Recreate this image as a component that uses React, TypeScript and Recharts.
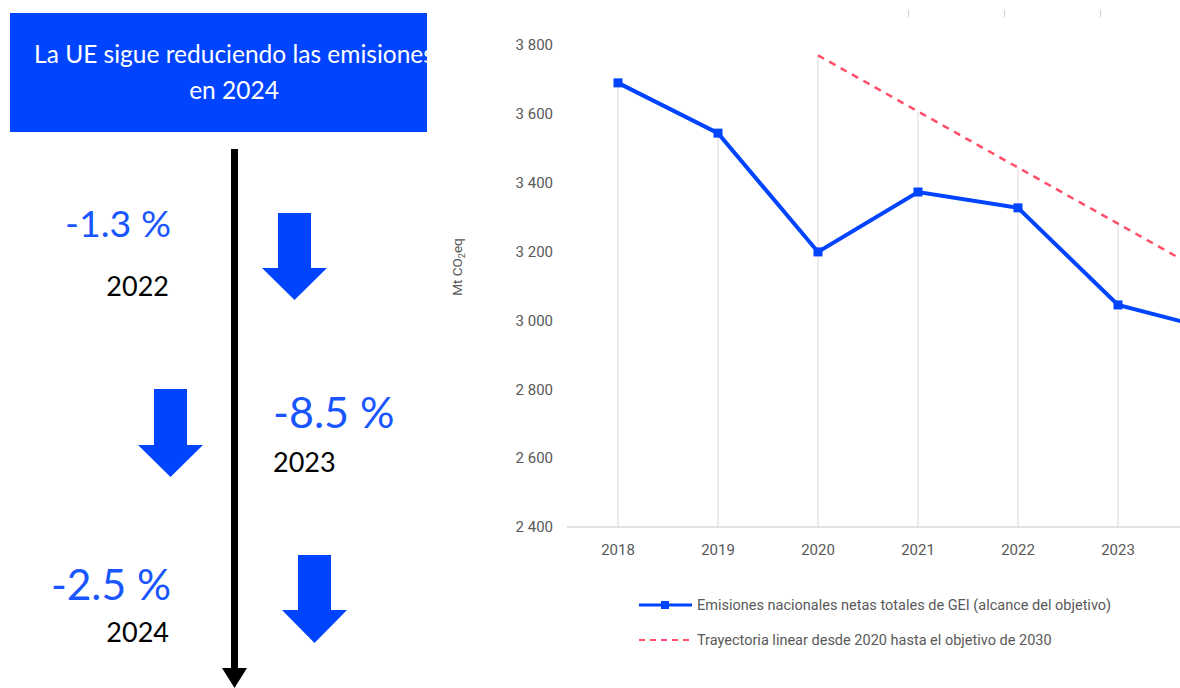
import { LineChart, Line, XAxis, YAxis, ReferenceLine, Legend } from "recharts"

// Datos (Mt CO2eq)
const years = [2018, 2019, 2020, 2021, 2022, 2023, 2024]
const emisiones = [3690, 3544, 3199, 3373, 3327, 3045, 2970]
const trayectoria = [null, null, 3770, 3607, 3444, 3281, 3118]
const yTicks = [2400, 2600, 2800, 3000, 3200, 3400, 3600, 3800]
const xTicks = [2018, 2019, 2020, 2021, 2022, 2023]

const nombreEmisiones = "Emisiones nacionales netas totales de GEI (alcance del objetivo)"
const nombreTrayectoria = "Trayectoria linear desde 2020 hasta el objetivo de 2030"

// Panel izquierdo
const cambios = ["-1.3 %", "-8.5 %", "-2.5 %"]
const anios = ["2022", "2023", "2024"]

const data = years.map((y, i) => ({
  year: y,
  emisiones: emisiones[i],
  trayectoria: trayectoria[i],
}))

const BLUE = "#0044ff"
const RED = "#ff4d6a"
const GREY = "#595959"
const chartFont = "Roboto, 'DejaVu Sans Condensed', sans-serif"

const fmt = (v: number) => {
  const s = String(v)
  return s.length > 3 ? s.slice(0, s.length - 3) + " " + s.slice(-3) : s
}

const YLabel = (props: any) => {
  const { viewBox } = props
  const x = viewBox.x + 22
  const y = 267
  return (
    <text x={x} y={y} transform={`rotate(-90 ${x} ${y})`} textAnchor="middle" fontSize={13.5} fill={GREY} fontFamily={chartFont}>
      Mt CO<tspan fontSize={9} dy={3}>2</tspan>
      <tspan dy={-3}>eq</tspan>
    </text>
  )
}

const renderLegend = () => (
  <div style={{ fontFamily: chartFont, fontSize: 14.5, color: GREY }}>
    <div style={{ display: "flex", alignItems: "center", height: 20 }}>
      <svg width={54} height={14}>
        <line x1={0} y1={7} x2={53} y2={7} stroke={BLUE} strokeWidth={3} />
        <rect x={22} y={3} width={8} height={8} fill={BLUE} />
      </svg>
      <span style={{ marginLeft: 4 }}>{nombreEmisiones}</span>
    </div>
    <div style={{ display: "flex", alignItems: "center", height: 20, marginTop: 15 }}>
      <svg width={54} height={14}>
        <line x1={0} y1={7} x2={53} y2={7} stroke={RED} strokeWidth={2} strokeDasharray="6 5" />
      </svg>
      <span style={{ marginLeft: 4 }}>{nombreTrayectoria}</span>
    </div>
  </div>
)

function LeftPanel() {
  const arrows = [
    { x: 262, top: 213, base: 268, tip: 300 },
    { x: 138, top: 389, base: 445, tip: 477 },
    { x: 282, top: 555, base: 610, tip: 643 },
  ]
  const arrowPath = (a: { x: number; top: number; base: number; tip: number }) =>
    `M${a.x + 16},${a.top} L${a.x + 49},${a.top} L${a.x + 49},${a.base} L${a.x + 65},${a.base} L${a.x + 32.5},${a.tip} L${a.x},${a.base} L${a.x + 16},${a.base} Z`
  const font = "Lato, 'Open Sans', sans-serif"
  return (
    <svg width={440} height={688} style={{ position: "absolute", left: 0, top: 0 }}>
      <defs>
        <clipPath id="boxclip">
          <rect x={10} y={13} width={417} height={119} />
        </clipPath>
      </defs>
      <rect x={10} y={13} width={417} height={119} fill={BLUE} />
      <g clipPath="url(#boxclip)" fontFamily={font} fontSize={24.5} fill="#fff" textAnchor="middle">
        <text x={234} y={63}>La UE sigue reduciendo las emisiones</text>
        <text x={234} y={99}>en 2024</text>
      </g>
      <line x1={234.5} y1={149} x2={234.5} y2={672} stroke="#000" strokeWidth={7} />
      <path d="M222,668 L247,668 L234.5,688 Z" fill="#000" />
      {arrows.map((a, i) => (
        <path key={i} d={arrowPath(a)} fill={BLUE} />
      ))}
      <g fontFamily={font}>
        <text x={171} y={237} textAnchor="end" fontSize={37.5} fill="#1a56ff">{cambios[0]}</text>
        <text x={169} y={296} textAnchor="end" fontSize={27} fill="#000">{anios[0]}</text>
        <text x={273} y={428} textAnchor="start" fontSize={43} fill="#1a56ff">{cambios[1]}</text>
        <text x={273} y={472} textAnchor="start" fontSize={27} fill="#000">{anios[1]}</text>
        <text x={171} y={600} textAnchor="end" fontSize={42.5} fill="#1a56ff">{cambios[2]}</text>
        <text x={169} y={642} textAnchor="end" fontSize={27} fill="#000">{anios[2]}</text>
      </g>
    </svg>
  )
}

export default function App() {
  return (
    <div style={{ position: "absolute", left: 0, top: 0, width: 1180, height: 688, overflow: "hidden", background: "#fff" }}>
      <LeftPanel />
      {[908, 1004, 1100].map((x) => (
        <div key={x} style={{ position: "absolute", left: x, top: 10, width: 1, height: 7, background: "#d0d0d0" }} />
      ))}
      <div style={{ position: "absolute", left: 440, top: 0 }}>
        <LineChart width={830} height={688} data={data} margin={{ top: 45, right: 1, left: 0, bottom: 131 }}>
          {data.map((d) => (
            <ReferenceLine
              key={d.year}
              segment={[
                { x: d.year, y: 2400 },
                { x: d.year, y: Math.max(d.emisiones, d.trayectoria ?? 0) },
              ]}
              stroke="#d9d9d9"
              strokeWidth={1}
            />
          ))}
          <XAxis
            dataKey="year"
            height={30}
            ticks={xTicks}
            padding={{ left: 51, right: 51 }}
            tickLine={false}
            tickSize={0}
            tickMargin={17}
            axisLine={{ stroke: "#d9d9d9", strokeWidth: 1.5 }}
            tick={{ fontSize: 15, fill: GREY, fontFamily: chartFont }}
          />
          <YAxis
            width={127}
            domain={[2400, 3800]}
            ticks={yTicks}
            tickFormatter={fmt}
            axisLine={false}
            tickLine={false}
            tickSize={0}
            tickMargin={14}
            tick={{ fontSize: 15, fill: GREY, fontFamily: chartFont }}
            label={<YLabel />}
          />
          <Line
            dataKey="trayectoria"
            name={nombreTrayectoria}
            stroke={RED}
            strokeWidth={2.5}
            strokeDasharray="7 6"
            dot={false}
            isAnimationActive={false}
          />
          <Line
            dataKey="emisiones"
            name={nombreEmisiones}
            stroke={BLUE}
            strokeWidth={4}
            dot={(p: any) => <rect key={p.index} x={p.cx - 4.5} y={p.cy - 4.5} width={9} height={9} fill={BLUE} />}
            isAnimationActive={false}
          />
          <Legend
            layout="vertical"
            align="center"
            verticalAlign="middle"
            content={renderLegend}
            wrapperStyle={{ position: "absolute", left: 199, top: 595, width: 560 }}
          />
        </LineChart>
      </div>
    </div>
  )
}
